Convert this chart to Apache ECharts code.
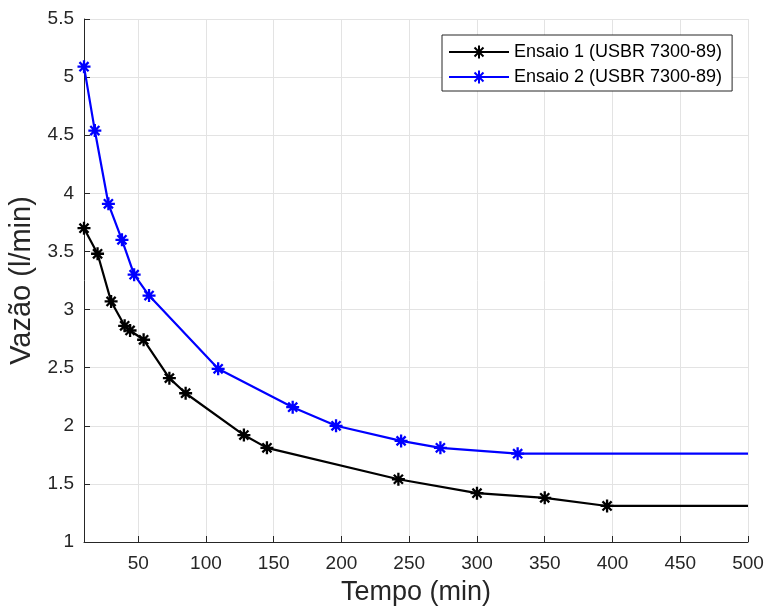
<!DOCTYPE html>
<html>
<head>
<meta charset="utf-8">
<script src="https://cdn.jsdelivr.net/npm/echarts@6/dist/echarts.min.js"></script>
<style>
  html, body { margin: 0; padding: 0; background: #fff; }
  #chart { width: 768px; height: 615px; }
</style>
</head>
<body>
<div id="chart"></div>
<script>
// Flow rate over time for two infiltration tests
const seriesNames = ['Ensaio 1 (USBR 7300-89)', 'Ensaio 2 (USBR 7300-89)'];

const ensaio1Tempo = [10, 20, 30, 40, 44, 54, 73, 85, 128, 145, 242, 300, 350, 396, 500];
const ensaio1Vazao = [3.70, 3.48, 3.07, 2.86, 2.82, 2.74, 2.41, 2.28, 1.92, 1.81, 1.54, 1.42, 1.38, 1.31, 1.31];

const ensaio2Tempo = [10, 18, 28, 38, 47, 58, 109, 164, 196, 244, 273, 330, 500];
const ensaio2Vazao = [5.09, 4.54, 3.91, 3.60, 3.30, 3.12, 2.49, 2.16, 2.00, 1.87, 1.81, 1.76, 1.76];

const xTicks = [50, 100, 150, 200, 250, 300, 350, 400, 450, 500];

const FONT = '"Liberation Sans", Arial, Helvetica, sans-serif';
const TEXT = '#262626';
const GRID = '#e3e3e3';

// asterisk marker: plus and cross strokes
const asterisk = 'path://M0,-6L0,6M-6,0L6,0M-4.2,-4.2L4.2,4.2M-4.2,4.2L4.2,-4.2';

function buildData(xs, ys) {
  // the final point only extends the line to the axis end, without a marker
  return xs.map((x, i) => i === xs.length - 1
    ? { value: [x, ys[i]], symbol: 'none' }
    : [x, ys[i]]);
}

function lineSeries(name, xs, ys, color) {
  return {
    name: name,
    type: 'line',
    data: buildData(xs, ys),
    symbol: asterisk,
    symbolSize: 13,
    showAllSymbol: true,
    lineStyle: { color: color, width: 2.2 },
    itemStyle: { color: color, borderColor: color, borderWidth: 2.3 },
    emphasis: { disabled: true },
    animation: false
  };
}

const chart = echarts.init(document.getElementById('chart'), null, { renderer: 'canvas' });

chart.setOption({
  backgroundColor: '#ffffff',
  animation: false,
  textStyle: { fontFamily: FONT },
  grid: {
    left: 84, top: 19, right: 20, bottom: 73,
    containLabel: false,
    outerBoundsMode: 'none'
  },
  legend: {
    orient: 'vertical',
    left: 442,
    top: 35,
    padding: [8, 10, 5, 6],
    itemGap: 7,
    itemWidth: 60,
    itemHeight: 16,
    backgroundColor: '#ffffff',
    borderColor: TEXT,
    borderWidth: 1,
    borderRadius: 0,
    textStyle: { fontFamily: FONT, fontSize: 18, color: '#000' },
    data: seriesNames
  },
  xAxis: {
    type: 'value',
    min: 10,
    max: 500,
    name: 'Tempo (min)',
    nameLocation: 'middle',
    nameGap: 37,
    nameTextStyle: { fontFamily: FONT, fontSize: 27, color: TEXT },
    axisLine: { show: true, onZero: false, lineStyle: { color: TEXT, width: 1 } },
    axisTick: { show: true, inside: true, length: 6, customValues: xTicks, lineStyle: { color: TEXT } },
    axisLabel: { customValues: xTicks, fontFamily: FONT, fontSize: 19, color: TEXT, margin: 12 },
    splitLine: { show: true, lineStyle: { color: GRID, width: 1 } },
    minorTick: { show: false }
  },
  yAxis: {
    type: 'value',
    min: 1,
    max: 5.5,
    interval: 0.5,
    name: 'Vazão (l/min)',
    nameLocation: 'middle',
    nameGap: 42,
    nameTextStyle: { fontFamily: FONT, fontSize: 29, color: TEXT },
    axisLine: { show: true, onZero: false, lineStyle: { color: TEXT, width: 1 } },
    axisTick: { show: true, inside: true, length: 6, lineStyle: { color: TEXT } },
    axisLabel: { fontFamily: FONT, fontSize: 19, color: TEXT, margin: 10 },
    splitLine: { show: true, lineStyle: { color: GRID, width: 1 } }
  },
  series: [
    lineSeries(seriesNames[0], ensaio1Tempo, ensaio1Vazao, '#000000'),
    lineSeries(seriesNames[1], ensaio2Tempo, ensaio2Vazao, '#0000ff')
  ]
});
</script>
</body>
</html>
